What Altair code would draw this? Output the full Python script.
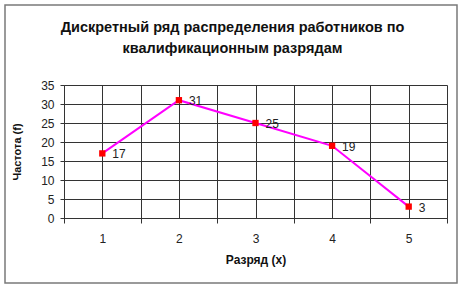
import altair as alt
import pandas as pd

categories = [1, 2, 3, 4, 5]
frequencies = [17, 31, 25, 19, 3]
x_ticks = [0.5, 1, 1.5, 2, 2.5, 3, 3.5, 4, 4.5, 5, 5.5]
y_ticks = [0, 5, 10, 15, 20, 25, 30, 35]

df = pd.DataFrame({"x": categories, "f": frequencies})

W, H = 383, 133
FONT = "Liberation Sans"

xscale = alt.Scale(domain=[0.5, 5.5], nice=False, zero=False)
yscale = alt.Scale(domain=[0, 35], nice=False)

xaxis = alt.Axis(
    values=x_ticks, tickCount=50,
    labelExpr="datum.value % 1 == 0 ? format(datum.value, 'd') : ''",
    labelOverlap=False,
    title="Разряд (х)",
    titleFont=FONT, titleFontSize=12, titleFontWeight="bold", titleColor="#111",
    titlePadding=10,
    labelFont=FONT, labelFontSize=12, labelColor="#222", labelPadding=10,
    tickOpacity=alt.ConditionalAxisNumber(
        condition={"test": "datum.value % 1 == 0", "value": 0}, value=1
    ),
    tickColor="#333", tickSize=5,
    grid=True, gridColor="#333", gridWidth=1, gridOpacity=1,
    domainColor="#333",
)
yaxis = alt.Axis(
    values=y_ticks, tickCount=50, labelOverlap=False, format="d",
    title="Частота (f)",
    titleFont=FONT, titleFontSize=11, titleFontWeight="bold", titleColor="#111",
    titlePadding=18,
    labelFont=FONT, labelFontSize=12, labelColor="#222", labelPadding=6,
    tickColor="#333", tickSize=4,
    grid=True, gridColor="#333", gridWidth=1, gridOpacity=1,
    domainColor="#333",
)

base = alt.Chart(df)

line = base.mark_line(color="#FF00FF", strokeWidth=2).encode(
    x=alt.X("x:Q", scale=xscale, axis=xaxis),
    y=alt.Y("f:Q", scale=yscale, axis=yaxis),
)
points = base.mark_point(shape="square", filled=True, color="#FF0000", size=40, opacity=1).encode(
    x=alt.X("x:Q", scale=xscale),
    y=alt.Y("f:Q", scale=yscale),
)
labels = base.mark_text(align="left", baseline="middle", dx=10, dy=1, font=FONT, fontSize=12, color="#222").encode(
    x=alt.X("x:Q", scale=xscale),
    y=alt.Y("f:Q", scale=yscale),
    text="f:Q",
)
frame = alt.Chart(alt.Data(values=[{}])).mark_rect(
    fill=None, stroke="#7a7a7a", strokeWidth=1.5
).encode(
    x=alt.value(-59), x2=alt.value(393), y=alt.value(-80), y2=alt.value(198)
)

chart = alt.layer(line, points, labels, frame).properties(
    width=W, height=H,
    padding={"left": 64, "top": 85, "right": 16, "bottom": 71},
    autosize=alt.AutoSizeParams(type="none"),
    title=alt.TitleParams(
        text=["Дискретный ряд распределения работников по", "квалификационным разрядам"],
        font=FONT, fontSize=14.5, fontWeight="bold", color="#111",
        anchor="middle", dx=-23, offset=0, dy=52, lineHeight=21,
    ),
).configure_view(fill="#C0C0C0", stroke="#333", strokeWidth=1).configure(background="white")

chart.save("out.html", embed_options={"renderer": "svg", "actions": False})
